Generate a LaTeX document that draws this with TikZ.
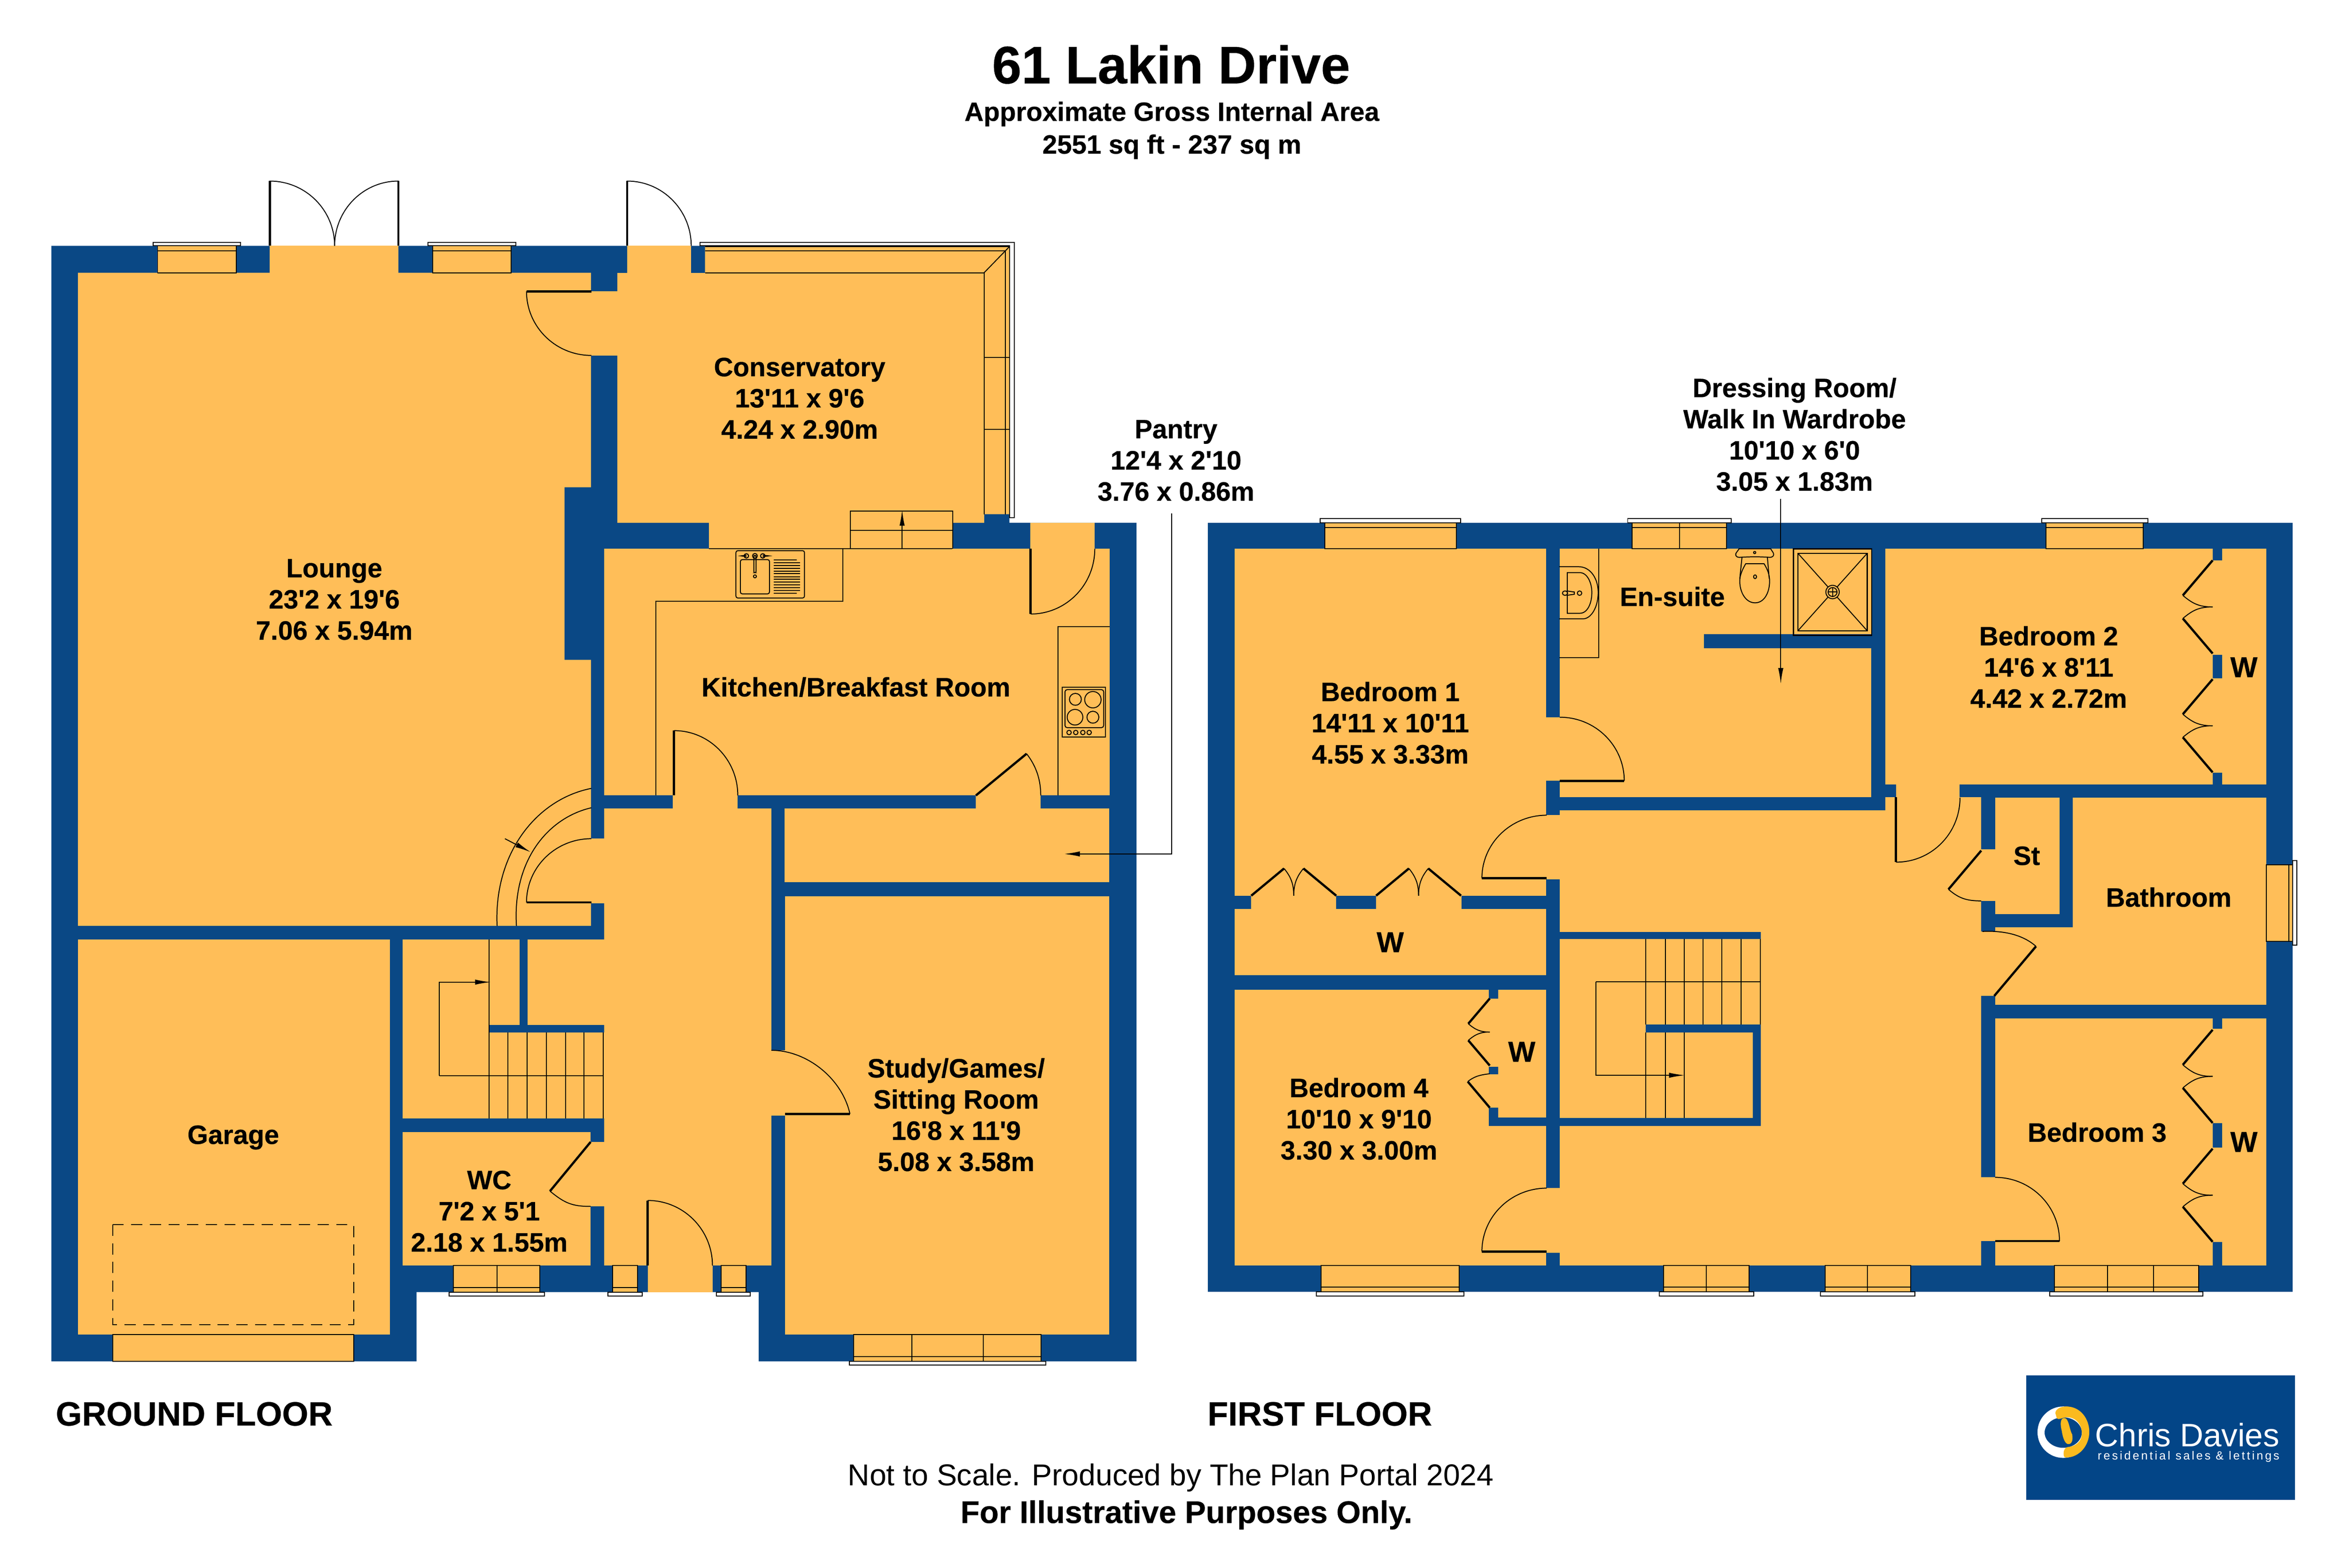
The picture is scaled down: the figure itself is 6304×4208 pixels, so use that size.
\documentclass[tikz,border=0pt]{standalone}
\usepackage{fontspec}
\usetikzlibrary{calc,arrows.meta}
\newfontfamily\lsans[BoldFeatures={FakeBold=0.4}]{Liberation Sans}
\newfontfamily\lsanstrk[LetterSpace=16]{Liberation Sans}
\definecolor{wallblue}{RGB}{10,72,133}
\definecolor{floorc}{RGB}{255,190,88}
\definecolor{logoblue}{RGB}{3,69,135}
\definecolor{logoyellow}{RGB}{251,186,30}
\tikzset{
  thinl/.style={draw=black,line width=0.025cm},
  leaf/.style={draw=black,line width=0.06cm},
  swingl/.style={draw=black,line width=0.025cm},
  leader/.style={draw=black,line width=0.025cm,-{Latex[length=0.42cm,width=0.14cm]}},
  room/.style={font=\lsans\bfseries\fontsize{20.3}{23.8}\selectfont,align=center,text=black,inner sep=0pt},
  head/.style={font=\lsans\bfseries,align=center,text=black,inner sep=0pt},
}
% floor and wall rectangles
\newcommand\F[4]{\fill[floorc] (#1,#2) rectangle (#3,#4);}
\newcommand\W[4]{\fill[wallblue] (#1,#2) rectangle (#3,#4);}
% quarter swing: hinge, start, end
\newcommand\swing[3]{\draw[swingl] (#2) .. controls ($(#2)+0.5523*(#3)-0.5523*(#1)$) and ($(#3)+0.5523*(#2)-0.5523*(#1)$) .. (#3);}
% window: x1,x2,outer y,inner y, frame y, line y, mullions
\newcommand\winH[7]{%
  \filldraw[fill=floorc,thinl] (#1,#3) rectangle (#2,#4);
  \filldraw[fill=white,thinl] ({#1-12},#3) rectangle ({#2+12},#5);
  \draw[thinl] (#1,#6) -- (#2,#6);
  \foreach \m in {#7} {\draw[thinl] (\m,#3) -- (\m,#4);}
}
% folding wardrobe pair, vertical
\newcommand\wardv[3]{\begin{scope}[shift={(#1,#2)},scale=#3]
  \draw[leaf] (0,0) -- (-80,94);
  \draw[swingl] (-80,94) .. controls (-53,117) and (-35,125) .. (0,125);
  \draw[leaf] (0,250) -- (-80,156);
  \draw[swingl] (-80,156) .. controls (-53,133) and (-35,125) .. (0,125);
\end{scope}}
% folding wardrobe pair, horizontal
\newcommand\wardh[2]{\begin{scope}[shift={(#1,#2)}]
  \draw[leaf] (0,0) -- (88,-73);
  \draw[swingl] (88,-73) .. controls (107,-50) and (114,-30) .. (114,0);
  \draw[leaf] (228,0) -- (140,-73);
  \draw[swingl] (140,-73) .. controls (121,-50) and (114,-30) .. (114,0);
\end{scope}}
\begin{document}
\begin{tikzpicture}[x=0.01cm,y=-0.01cm]
\path[use as bounding box,fill=white] (0,0) rectangle (6304,4208);

% ---------- GROUND FLOOR ----------
\fill[wallblue] (138,660) -- (2709,660) -- (2709,1403) -- (3050,1403) -- (3050,3654) -- (2036,3654) -- (2036,3468) -- (1118,3468) -- (1118,3654) -- (138,3654) -- cycle;
\fill[floorc] (209,732) -- (1586,732) -- (1586,1308) -- (1515,1308) -- (1515,1771) -- (1586,1771) -- (1586,2485) -- (209,2485) -- cycle;
\F{1586}{782}{1657}{954}
\F{1657}{732}{2641}{1403}
\F{1683}{660}{1855}{732}
\F{1903}{1403}{2555}{1473}
\F{1622}{1473}{2978}{2135}
\F{2765}{1403}{2938}{1473}
\F{1806}{2135}{1979}{2170}
\F{2619}{2135}{2793}{2170}
\F{1621}{2170}{2070}{3397}
\F{1416}{2521}{1621}{2751}
\F{1586}{2251}{1622}{2424}
\F{1081}{2521}{1395}{3002}
\F{1395}{2771}{1621}{3002}
\W{1313}{2751}{1621}{2771}
\F{1081}{3038}{1585}{3397}
\F{1585}{3065}{1621}{3238}
\F{209}{2521}{1047}{3582}
\F{2106}{2170}{2977}{2368}
\F{2070}{2819}{2107}{2994}
\F{2107}{2406}{2977}{3582}
\F{1738}{3397}{1912}{3468}
% double garden doors
\F{724}{660}{1069}{732}
% conservatory glazed band
\filldraw[fill=white,thinl] (1878,660) -- (1878,650) -- (2722,650) -- (2722,1389) -- (2709,1389) -- (2709,660) -- cycle;
\fill[floorc] (1892,662) -- (2709,662) -- (2709,1380) -- (2641,1380) -- (2641,732) -- (1892,732) -- cycle;
\draw[thinl] (1892,662) -- (2709,662) -- (2709,1380);
\draw[thinl] (1892,673) -- (2698,673) -- (2698,1380);
\draw[thinl] (1892,732) -- (2641,732) -- (2641,1380);
\draw[thinl] (2641,732) -- (2709,662);
\draw[thinl] (2641,959) -- (2709,959);
\draw[thinl] (2641,1152) -- (2709,1152);
% windows ground floor
\winH{423}{634}{660}{732}{650}{673}{}
\winH{1161}{1372}{660}{732}{650}{673}{}
\winH{1217}{1449}{3468}{3397}{3479}{3456}{1334}
\winH{1644}{1711}{3468}{3397}{3479}{3456}{}
\winH{1935}{2002}{3468}{3397}{3479}{3456}{}
\winH{2291}{2794}{3654}{3582}{3664}{3641}{2447,2639}
\filldraw[fill=floorc,thinl] (303,3582) rectangle (949,3654);
% doors ground floor
\draw[leaf] (724,486) -- (724,660);
\swing{724,660}{724,486}{898,660}
\draw[leaf] (1069,486) -- (1069,660);
\swing{1069,660}{1069,486}{898,660}
\draw[leaf] (1683,486) -- (1683,660);
\swing{1683,660}{1683,486}{1855,660}
\draw[leaf] (1413,782) -- (1587,782);
\swing{1587,782}{1413,782}{1587,954}
\draw[leaf] (1413,2422) -- (1587,2422);
\swing{1587,2422}{1413,2422}{1587,2251}
\draw[leaf] (2766,1473) -- (2766,1648);
\swing{2766,1473}{2766,1648}{2938,1473}
\draw[leaf] (1809,1961) -- (1809,2135);
\swing{1809,2135}{1809,1961}{1980,2135}
\draw[leaf] (2619,2135) -- (2755,2023);
\draw[swingl] (2755,2023) .. controls (2776,2050) and (2793,2085) .. (2793,2135);
\draw[leaf] (2107,2990) -- (2281,2990);
\swing{2107,2990}{2281,2990}{2070,2819}
\draw[leaf] (1585,3065) -- (1476,3197);
\draw[swingl] (1476,3197) .. controls (1515,3229) and (1535,3238) .. (1585,3238);
\draw[leaf] (1738,3222) -- (1738,3397);
\swing{1738,3397}{1738,3222}{1912,3397}
% curved step
\draw[thinl] (1587,2116) .. controls (1440,2145) and (1325,2290) .. (1334,2485);
\draw[thinl] (1587,2168) .. controls (1470,2195) and (1375,2310) .. (1386,2485);
\coordinate (stepA) at (1355,2251);
\coordinate (stepB) at (1424,2287);
\draw[leader] (stepA) -- (stepB);
% ground stairs
\foreach \xx in {1363,1414,1466,1518,1567,1619} {\draw[thinl] (\xx,2771) -- (\xx,3002);}
\draw[thinl] (1313,2521) -- (1313,3002);
\draw[thinl] (1179,2887) -- (1619,2887);
\coordinate (stA) at (1179,2887);
\coordinate (stB) at (1179,2636);
\coordinate (stC) at (1317,2636);
\draw[leader] (stA) -- (stB) -- (stC);
% conservatory steps
\draw[thinl] (2282,1473) -- (2282,1372) -- (2557,1372) -- (2557,1473);
\draw[thinl] (2282,1423) -- (2557,1423);
\draw[thinl] (1903,1473) -- (2555,1473);
\coordinate (csA) at (2421,1473);
\coordinate (csB) at (2421,1369);
\draw[leader] (csA) -- (csB);
% kitchen fittings
\draw[thinl] (2262,1473) -- (2262,1614) -- (1760,1614) -- (1760,2135);
\draw[thinl] (2839,2135) -- (2839,1682) -- (2978,1682);
\draw[thinl,rounded corners=0.05cm] (1975,1478) rectangle (2159,1605);
\draw[thinl,rounded corners=0.05cm] (1987,1502) rectangle (2065,1594);
\foreach \yy in {1510,1518,1525,1533,1540,1548,1555,1562,1570,1577,1585} {\draw[thinl] (2077,\yy) -- (2147,\yy);}
\draw[thinl] (2077,1503) -- (2138,1503);
\draw[thinl] (2077,1592) -- (2138,1592);
\draw[thinl] (2026,1492) circle[radius=6.5];
\draw[thinl,rounded corners=0.03cm] (2023,1491) rectangle (2029,1537);
\draw[thinl] (2026,1547) circle[radius=4];
\draw[thinl] (2003,1492) circle[radius=6];
\draw[thinl] (2047,1492) circle[radius=6];
\draw[thinl] (2003,1490) -- (1989,1492) -- (2003,1494);
\draw[thinl] (2047,1490) -- (2063,1492) -- (2047,1494);
\draw[thinl] (2851,1844) rectangle (2967,1978);
\draw[thinl,rounded corners=0.06cm] (2858,1851) rectangle (2962,1953);
\draw[thinl] (2886,1877) circle[radius=16];
\draw[thinl] (2933,1878) circle[radius=22];
\draw[thinl] (2885,1925) circle[radius=21];
\draw[thinl] (2933,1925) circle[radius=16];
\foreach \xx in {2869,2887,2906,2923} {\draw[thinl] (\xx,1966) circle[radius=6];}
% garage up-and-over
\draw[thinl,dash pattern=on 0.3cm off 0.2cm] (303,3287) rectangle (949,3556);

% ---------- FIRST FLOOR ----------
\W{3241}{1403}{6153}{3467}
\F{3313}{1473}{4149}{2404}
\F{3358}{2404}{3586}{2440}
\F{3693}{2404}{3922}{2440}
\F{3313}{2440}{4149}{2618}
\F{3313}{2656}{4149}{3397}
\W{3996}{2656}{4021}{2680}
\W{3996}{2863}{4021}{2884}
\W{3996}{2973}{4021}{3022}
\W{3996}{2999}{4149}{3022}
\F{4149}{1925}{4186}{2096}
\F{4149}{2188}{4186}{2360}
\F{4149}{3189}{4186}{3363}
\F{4186}{1473}{5022}{2139}
\W{4573}{1702}{5022}{1740}
\F{4186}{2175}{5317}{3397}
\F{5059}{2140}{5317}{2175}
\F{5088}{2105}{5259}{2141}
\F{5059}{1473}{6082}{2105}
\W{5938}{1473}{5963}{1504}
\W{5938}{1758}{5963}{1821}
\W{5938}{2074}{5963}{2105}
\F{5354}{2141}{5527}{2453}
\F{5317}{2279}{5354}{2418}
\F{5317}{2500}{5354}{2673}
\F{5562}{2141}{6082}{2697}
\F{5354}{2489}{6082}{2697}
\F{5354}{2733}{6082}{3397}
\F{5317}{3160}{5354}{3331}
\W{5938}{2733}{5963}{2761}
\W{5938}{3015}{5963}{3080}
\W{5938}{3333}{5963}{3397}
\W{4186}{2501}{4725}{2520}
\W{4186}{3001}{4725}{3022}
\W{4704}{2750}{4725}{3022}
\W{4417}{2750}{4725}{2771}
% windows first floor
\winH{3555}{3908}{1403}{1473}{1392}{1416}{}
\winH{4380}{4634}{1403}{1473}{1392}{1416}{4507}
\winH{5491}{5752}{1403}{1473}{1392}{1416}{}
\winH{3545}{3916}{3467}{3397}{3479}{3455}{}
\winH{4465}{4694}{3467}{3397}{3479}{3455}{4579}
\winH{4898}{5127}{3467}{3397}{3479}{3455}{5012}
\winH{5513}{5900}{3467}{3397}{3479}{3455}{5656,5779}
\filldraw[fill=floorc,thinl] (6082,2321) rectangle (6153,2526);
\filldraw[fill=white,thinl] (6153,2310) rectangle (6164,2537);
\draw[thinl] (6142,2321) -- (6142,2526);
% doors first floor
\draw[leaf] (4186,2096) -- (4359,2096);
\swing{4186,2096}{4359,2096}{4186,1925}
\draw[leaf] (3977,2357) -- (4151,2357);
\swing{4151,2357}{3977,2357}{4151,2188}
\draw[leaf] (3977,3359) -- (4151,3359);
\swing{4151,3359}{3977,3359}{4151,3189}
\draw[leaf] (5088,2140) -- (5088,2314);
\swing{5088,2140}{5088,2314}{5260,2141}
\draw[leaf] (5317,2283) -- (5229,2387);
\draw[swingl] (5229,2387) .. controls (5258,2412) and (5279,2418) .. (5317,2418);
\draw[leaf] (5352,2673) -- (5464,2540);
\draw[swingl] (5320,2500) .. controls (5380,2497) and (5430,2510) .. (5464,2540);
\draw[leaf] (5354,3331) -- (5527,3331);
\swing{5354,3331}{5527,3331}{5354,3160}
% wardrobes
\wardv{5938}{1504}{1}
\wardv{5938}{1823}{1}
\wardv{5938}{2764}{1}
\wardv{5938}{3083}{1}
\wardv{3998}{2680}{0.72}
\draw[swingl] (3998,2882) .. controls (3970,2885) and (3955,2890) .. (3939,2903);
\draw[leaf] (3939,2903) -- (3998,2973);
\wardh{3358}{2404}
\wardh{3693}{2404}
% first stairs
\foreach \xx in {4417,4469,4520,4570,4621,4673,4724} {\draw[thinl] (\xx,2520) -- (\xx,2750);}
\foreach \xx in {4417,4469,4520} {\draw[thinl] (\xx,2771) -- (\xx,3001);}
\draw[thinl] (4283,2635) -- (4724,2635);
\coordinate (fsA) at (4283,2635);
\coordinate (fsB) at (4283,2886);
\coordinate (fsC) at (4521,2886);
\draw[leader] (fsA) -- (fsB) -- (fsC);
% en-suite
\draw[thinl] (4185,1765) -- (4291,1765) -- (4291,1473);
\draw[thinl] (4184,1521) -- (4236,1521) .. controls (4270,1521) and (4289,1555) .. (4289,1590) .. controls (4289,1630) and (4270,1661) .. (4248,1661) -- (4184,1661);
\draw[thinl] (4206,1646) -- (4206,1537) -- (4240,1537) .. controls (4260,1537) and (4272,1565) .. (4272,1590) .. controls (4272,1620) and (4260,1646) .. (4240,1646) -- cycle;
\draw[thinl] (4200,1592) ellipse[x radius=7,y radius=6];
\draw[thinl] (4204,1586) -- (4225,1589) -- (4225,1595) -- (4204,1598);
\draw[thinl] (4239,1592) ellipse[x radius=6,y radius=6];
\draw[thinl] (4667,1473) -- (4752,1473) .. controls (4756,1480) and (4760,1484) .. (4760,1488) .. controls (4760,1493) and (4755,1496) .. (4750,1496) .. controls (4725,1494) and (4695,1494) .. (4668,1496) .. controls (4662,1496) and (4658,1493) .. (4658,1488) .. controls (4658,1484) and (4663,1480) .. (4667,1473) -- cycle;
\draw[thinl] (4675,1495) -- (4669,1553);
\draw[thinl] (4743,1495) -- (4748,1553);
\draw[thinl] (4685,1513) -- (4734,1513) .. controls (4745,1530) and (4749,1545) .. (4749,1560) .. controls (4749,1590) and (4735,1618) .. (4710,1618) .. controls (4685,1618) and (4669,1590) .. (4669,1560) .. controls (4669,1545) and (4675,1530) .. (4685,1513) -- cycle;
\draw[thinl] (4710,1548) ellipse[x radius=4,y radius=5];
\draw[thinl] (4709,1483) circle[radius=3];
\draw[draw=black,line width=0.03cm] (4813,1473) rectangle (5023,1705);
\draw[draw=black,line width=0.03cm] (4825,1485) rectangle (5011,1693);
\draw[thinl] (4825,1485) -- (5011,1693);
\draw[thinl] (5011,1485) -- (4825,1693);
\fill[floorc] (4918,1589) circle[radius=18];
\draw[thinl] (4918,1589) circle[radius=18];
\draw[thinl] (4918,1589) circle[radius=12];
\draw[thinl] (4906,1589) -- (4930,1589);
\draw[thinl] (4918,1577) -- (4918,1601);

% ---------- LABELS ----------
\node[head,font=\lsans\bfseries\fontsize{40.3}{48}\selectfont] (title) at (3143,173) {61 Lakin Drive};
\node[head,font=\lsans\bfseries\fontsize{20.2}{25}\selectfont] (area) at (3145,350) {Approximate Gross Internal Area\\2551 sq ft - 237 sq m};
\node[room] (lounge) at (897,1609) {Lounge\\23'2 x 19'6\\7.06 x 5.94m};
\node[room] (conserv) at (2146,1069) {Conservatory\\13'11 x 9'6\\4.24 x 2.90m};
\node[room] (kitchen) at (2297,1844) {Kitchen/Breakfast Room};
\node[room] (pantry) at (3156,1236) {Pantry\\12'4 x 2'10\\3.76 x 0.86m};
\node[room] (garage) at (626,3053) {Garage};
\node[room] (wc) at (1313,3251) {WC\\7'2 x 5'1\\2.18 x 1.55m};
\node[room] (study) at (2566,2992) {Study/Games/\\Sitting Room\\16'8 x 11'9\\5.08 x 3.58m};
\node[room] (dress) at (4816,1166) {Dressing Room/\\Walk In Wardrobe\\10'10 x 6'0\\3.05 x 1.83m};
\node[room] (ensuite) at (4488,1601) {En-suite};
\node[room] (bed1) at (3731,1940) {Bedroom 1\\14'11 x 10'11\\4.55 x 3.33m};
\node[room,font=\lsans\bfseries\fontsize{22}{26}\selectfont] (w1) at (3731,2529) {W};
\node[room] (bed4) at (3647,3003) {Bedroom 4\\10'10 x 9'10\\3.30 x 3.00m};
\node[room,font=\lsans\bfseries\fontsize{22}{26}\selectfont] (w4) at (4084,2823) {W};
\node[room] (bed2) at (5498,1790) {Bedroom 2\\14'6 x 8'11\\4.42 x 2.72m};
\node[room,font=\lsans\bfseries\fontsize{22}{26}\selectfont] (w2) at (6022,1791) {W};
\node[room] (st) at (5439,2297) {St};
\node[room] (bath) at (5820,2408) {Bathroom};
\node[room] (bed3) at (5628,3039) {Bedroom 3};
\node[room,font=\lsans\bfseries\fontsize{22}{26}\selectfont] (w3) at (6022,3065) {W};
\node[head,anchor=west,font=\lsans\bfseries\fontsize{25.7}{30}\selectfont] (gf) at (149,3795) {GROUND FLOOR};
\node[head,anchor=west,font=\lsans\bfseries\fontsize{25.7}{30}\selectfont] (ff) at (3240,3795) {FIRST FLOOR};
\node[head,font=\lsans\fontsize{23.05}{26}\selectfont] (ns) at (3142,3966) {Not to Scale. Produced by The Plan Portal 2024};
\node[head,font=\lsans\bfseries\fontsize{23.9}{26}\selectfont] (fi) at (3184,4066) {For Illustrative Purposes Only.};
% leaders
\coordinate (pantryS) at (3145,1378);
\coordinate (pantryC) at (3145,2292);
\coordinate (pantryT) at (2856,2292);
\draw[leader] (pantryS) -- (pantryC) -- (pantryT);
\coordinate (dressS) at (4779,1339);
\coordinate (dressT) at (4779,1835);
\draw[leader] (dressS) -- (dressT);

% ---------- LOGO ----------
\fill[logoblue] (5438,3691) rectangle (6159,4026);
\fill[white,even odd rule] (5537,3844) ellipse[x radius=69,y radius=69] (5537,3845) ellipse[x radius=50,y radius=41];
\fill[logoyellow] (5516,3793) .. controls (5516,3782) and (5530,3775) .. (5545,3775) .. controls (5585,3775) and (5607,3810) .. (5607,3843) .. controls (5607,3880) and (5580,3912) .. (5545,3912) .. controls (5540,3912) and (5538,3910) .. (5538,3900) .. controls (5538,3892) and (5543,3885) .. (5548,3884) .. controls (5570,3882) and (5587,3870) .. (5587,3847) .. controls (5587,3822) and (5570,3804) .. (5548,3804) .. controls (5535,3804) and (5525,3812) .. (5520,3807) -- cycle;
\fill[logoyellow] (5540,3806) .. controls (5528,3806) and (5529,3825) .. (5533,3840) .. controls (5536,3860) and (5542,3876) .. (5551,3876) .. controls (5560,3876) and (5564,3865) .. (5561,3850) .. controls (5553,3835) and (5552,3806) .. (5540,3806) -- cycle;
\node[anchor=base west,inner sep=0pt,text=white,font=\lsans\fontsize{24.8}{28}\selectfont] (logoname) at (5622,3883) {Chris Davies};
\node[anchor=base west,inner sep=0pt,text=white,font=\lsanstrk\fontsize{9}{11}\selectfont] (logotag) at (5629,3918) {residential sales \& lettings};
\end{tikzpicture}
\end{document}
